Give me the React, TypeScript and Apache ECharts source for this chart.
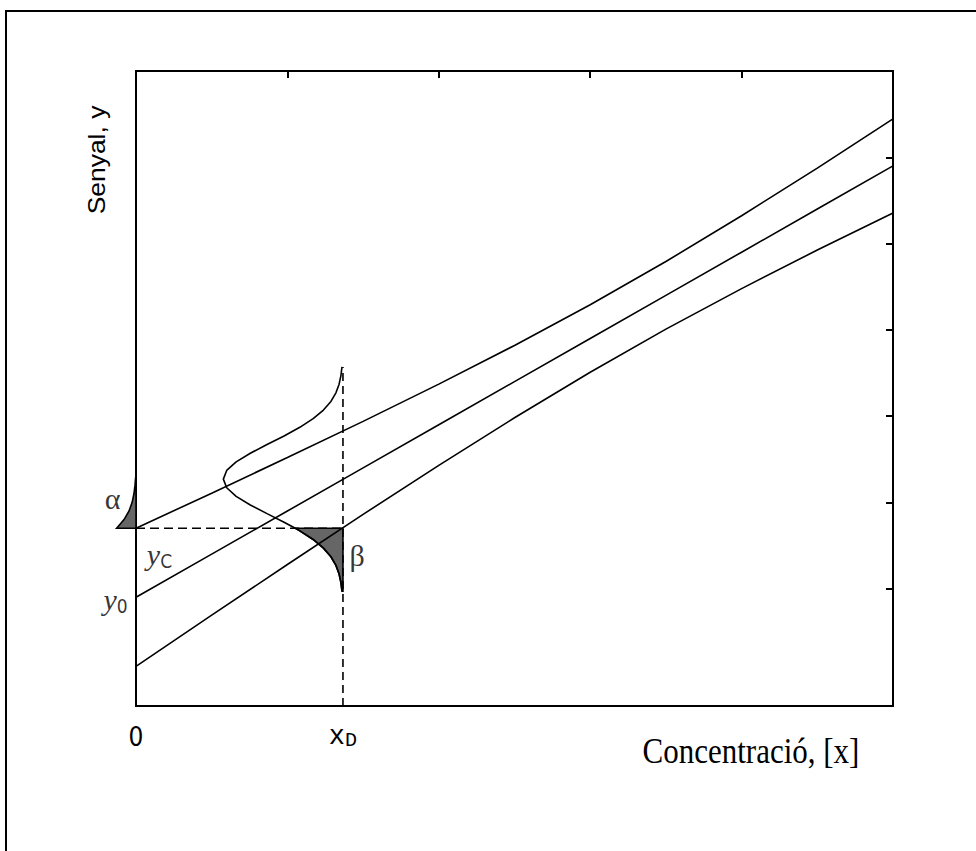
import { useEffect, useRef } from 'react';
import * as echarts from 'echarts';

// Axis tick positions (top and right edges of the frame)
const X_TICKS = [0, 2, 4, 6, 8, 10];
const Y_TICKS = [1, 2, 3, 4, 5, 6, 7];

// Calibration line and its confidence limits, sampled along the concentration axis
const BAND_X = [0, 1, 2, 3, 4, 5, 6, 7, 8, 9, 10];
const FIT_LINE = [0.9, 1.4, 1.9, 2.4, 2.9, 3.4, 3.9, 4.4, 4.9, 5.4, 5.9];
const UPPER_LIMIT = [1.7, 2.107, 2.52, 2.939, 3.371, 3.819, 4.291, 4.792, 5.322, 5.875, 6.445];
const LOWER_LIMIT = [0.1, 0.693, 1.28, 1.861, 2.429, 2.981, 3.509, 4.008, 4.478, 4.925, 5.355];

// Critical signal level and detection limit
const Y_C = 1.7;
const X_D = 2.734;

// Distribution of the blank signal, drawn sideways to the left of x = 0: [x, y]
const BLANK_CURVE: [number, number][] = [
  [-0.012, -0.36], [-0.027, -0.3], [-0.051, -0.2], [-0.092, -0.1], [-0.158, 0.0],
  [-0.256, 0.1], [-0.392, 0.2], [-0.566, 0.3], [-0.773, 0.4], [-0.997, 0.5],
  [-1.217, 0.6], [-1.402, 0.7], [-1.526, 0.8], [-1.57, 0.9], [-1.526, 1.0],
  [-1.402, 1.1], [-1.217, 1.2], [-0.997, 1.3], [-0.773, 1.4], [-0.566, 1.5],
  [-0.392, 1.6], [-0.256, 1.7], [-0.158, 1.8], [-0.092, 1.9], [-0.051, 2.0],
  [-0.027, 2.1], [-0.013, 2.2], [-0.006, 2.28],
];

// Distribution of the signal at the detection limit, hanging left of x = x_D: [x, y]
const XD_CURVE: [number, number][] = [
  [2.721, 0.97], [2.707, 1.07], [2.683, 1.17], [2.641, 1.27], [2.575, 1.37],
  [2.476, 1.47], [2.34, 1.57], [2.164, 1.67], [2.105, 1.7], [1.956, 1.77],
  [1.731, 1.87], [1.51, 1.97], [1.323, 2.07], [1.198, 2.17], [1.154, 2.27],
  [1.198, 2.37], [1.323, 2.47], [1.51, 2.57], [1.731, 2.67], [1.956, 2.77],
  [2.164, 2.87], [2.34, 2.97], [2.476, 3.07], [2.575, 3.17], [2.641, 3.27],
  [2.683, 3.37], [2.707, 3.47], [2.721, 3.57],
];

const Y_MIN = -0.36;
const Y_MAX = 7;

const INK = '#000';
const SHADE = '#666';

const RICH = {
  v: { fontFamily: 'Liberation Serif', fontStyle: 'italic', fontSize: 30, lineHeight: 32, verticalAlign: 'middle', color: INK },
  s: { fontFamily: "'DejaVu Sans Condensed', 'Liberation Sans'", fontSize: 19, lineHeight: 14, verticalAlign: 'bottom', color: INK },
  g: { fontFamily: 'Liberation Serif', fontSize: 30, color: INK },
  x: { fontFamily: 'Liberation Mono', fontSize: 27, lineHeight: 26, verticalAlign: 'middle', color: INK },
  d: { fontFamily: 'Liberation Mono', fontSize: 20, lineHeight: 12, verticalAlign: 'bottom', color: INK },
  z: { fontFamily: "'DejaVu Sans Condensed', 'Liberation Sans'", fontSize: 26, lineHeight: 26, color: INK },
};

function pairs(ys: number[]): [number, number][] {
  return BAND_X.map((x, i) => [x, ys[i]]);
}

function curve(data: [number, number][], name: string) {
  return {
    name,
    type: 'line',
    data,
    clip: false,
    symbol: 'none',
    silent: true,
    lineStyle: { color: INK, width: 1.6 },
    z: 3,
  };
}

const hiddenLine = { show: false, onZero: false };

export default function App() {
  const ref = useRef<HTMLDivElement>(null);

  useEffect(() => {
    if (!ref.current) return;
    const chart = echarts.init(ref.current, null, { renderer: 'svg' });

    // Shaded tails: alpha above y_C at x = 0, beta below y_C at x = x_D
    const alphaArea: [number, number][] = [
      ...BLANK_CURVE.filter((p) => p[1] >= Y_C - 1e-9),
      [0, BLANK_CURVE[BLANK_CURVE.length - 1][1]],
      [0, Y_C],
    ];
    const betaTail = XD_CURVE.filter((p) => p[1] <= Y_C + 1e-9);
    const betaArea: [number, number][] = [
      [X_D, Y_C],
      ...betaTail.slice().reverse(),
      [X_D, betaTail[0][1]],
    ];
    const areas = [alphaArea, betaArea];

    const option = {
      animation: false,
      grid: {
        left: 136,
        right: 83,
        top: 71,
        bottom: 145,
        show: true,
        borderColor: INK,
        borderWidth: 2,
        backgroundColor: 'transparent',
      },
      xAxis: [
        {
          type: 'value',
          min: 0,
          max: 10,
          position: 'bottom',
          axisLine: hiddenLine,
          axisTick: { show: false },
          splitLine: { show: false },
          axisLabel: {
            show: true,
            customValues: [0, X_D],
            margin: 18,
            color: INK,
            formatter: (v: number) => (v === 0 ? '{z|0}' : '{x|x}{d|D}'),
            rich: RICH,
          },
        },
        {
          type: 'value',
          min: 0,
          max: 10,
          position: 'top',
          axisLine: hiddenLine,
          axisTick: {
            show: true,
            inside: true,
            length: 7,
            customValues: X_TICKS,
            lineStyle: { color: INK, width: 2 },
          },
          axisLabel: { show: false },
          splitLine: { show: false },
        },
      ],
      yAxis: [
        {
          type: 'value',
          min: Y_MIN,
          max: Y_MAX,
          position: 'left',
          axisLine: hiddenLine,
          axisTick: { show: false },
          axisLabel: { show: false },
          splitLine: { show: false },
        },
        {
          type: 'value',
          min: Y_MIN,
          max: Y_MAX,
          position: 'right',
          axisLine: hiddenLine,
          axisTick: {
            show: true,
            inside: true,
            length: 7,
            customValues: Y_TICKS,
            lineStyle: { color: INK, width: 2 },
          },
          axisLabel: { show: false },
          splitLine: { show: false },
        },
      ],
      series: [
        {
          name: 'tails',
          type: 'custom',
          clip: false,
          silent: true,
          z: 2,
          data: [[0, 0], [1, 0]],
          renderItem: (_params: any, api: any) => {
            const idx = api.value(0);
            const pts = areas[idx].map((p) => api.coord(p));
            return {
              type: 'polygon',
              shape: { points: pts },
              style: { fill: SHADE, stroke: INK, lineWidth: 1.6 },
            };
          },
        },
        {
          name: 'y_C',
          type: 'line',
          data: [[0, Y_C], [X_D, Y_C]],
          symbol: 'none',
          silent: true,
          lineStyle: { color: INK, width: 1.6, type: [9, 5] },
          z: 2,
        },
        {
          name: 'x_D',
          type: 'line',
          data: [[X_D, Y_MIN], [X_D, XD_CURVE[XD_CURVE.length - 1][1]]],
          symbol: 'none',
          silent: true,
          lineStyle: { color: INK, width: 1.6, type: [8, 5] },
          z: 2,
        },
        curve(pairs(UPPER_LIMIT), 'upper'),
        curve(pairs(FIT_LINE), 'fit'),
        curve(pairs(LOWER_LIMIT), 'lower'),
        curve(BLANK_CURVE, 'blank'),
        curve(XD_CURVE, 'detection'),
        {
          name: 'notes',
          type: 'scatter',
          clip: false,
          silent: true,
          symbolSize: 1,
          itemStyle: { color: 'rgba(0,0,0,0)' },
          z: 5,
          label: { show: true, position: 'inside', color: INK, rich: RICH },
          data: [
            { value: [-0.31, 2.04], label: { formatter: '{g|α}' } },
            { value: [2.92, 1.38], label: { formatter: '{g|β}' } },
            { value: [0.31, 1.4], label: { formatter: '{v|y}{s|C}' } },
            { value: [-0.27, 0.88], label: { formatter: '{v|y}{s|0}' } },
          ],
        },
      ],
      graphic: [
        {
          type: 'polyline',
          silent: true,
          shape: { points: [[6, 851], [6, 11], [976, 11]] },
          style: { stroke: INK, lineWidth: 2, fill: 'none' },
        },
        {
          type: 'text',
          x: 97,
          y: 160,
          rotation: Math.PI / 2,
          scaleX: 1.15,
          silent: true,
          style: {
            text: 'Senyal, y',
            font: '23px "Liberation Sans", Arial, sans-serif',
            fill: INK,
            textAlign: 'center',
            textVerticalAlign: 'middle',
            align: 'center',
            verticalAlign: 'middle',
          },
        },
        {
          type: 'text',
          x: 751,
          y: 751,
          scaleY: 1.15,
          silent: true,
          style: {
            text: 'Concentració, [x]',
            font: '31px "Liberation Serif", "Times New Roman", serif',
            fill: INK,
            textAlign: 'center',
            textVerticalAlign: 'middle',
            align: 'center',
            verticalAlign: 'middle',
          },
        },
      ],
    };

    chart.setOption(option as any);
    return () => chart.dispose();
  }, []);

  return (
    <div
      ref={ref}
      style={{ position: 'fixed', left: 0, top: 0, width: 976, height: 851, background: '#fff' }}
    />
  );
}
